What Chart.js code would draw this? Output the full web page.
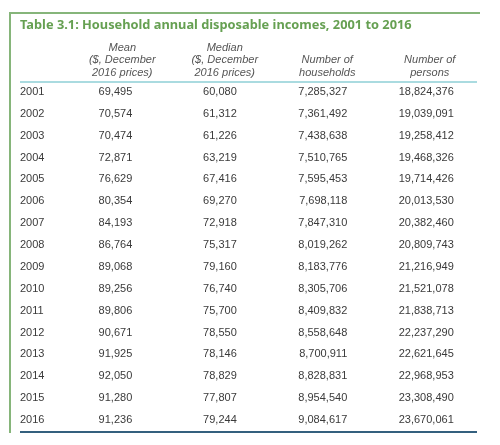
<!DOCTYPE html>
<html>
<head>
<meta charset="utf-8">
<script src="https://cdn.jsdelivr.net/npm/chart.js@4"></script>
<style>
  html, body { margin: 0; padding: 0; background: #fff; }
  #wrap { width: 500px; height: 445px; }
</style>
</head>
<body>
<div id="wrap"><canvas id="myChart" width="500" height="445"></canvas></div>
<script>
// Table data
const years = ["2001", "2002", "2003", "2004", "2005", "2006", "2007", "2008",
  "2009", "2010", "2011", "2012", "2013", "2014", "2015", "2016"];
const columns = [
  ["Mean", "($, December", "2016 prices)"],
  ["Median", "($, December", "2016 prices)"],
  ["Number of", "households"],
  ["Number of", "persons"]
];
const meanIncome = [69495, 70574, 70474, 72871, 76629, 80354, 84193, 86764,
  89068, 89256, 89806, 90671, 91925, 92050, 91280, 91236];
const medianIncome = [60080, 61312, 61226, 63219, 67416, 69270, 72918, 75317,
  79160, 76740, 75700, 78550, 78146, 78829, 77807, 79244];
const households = [7285327, 7361492, 7438638, 7510765, 7595453, 7698118, 7847310, 8019262,
  8183776, 8305706, 8409832, 8558648, 8700911, 8828831, 8954540, 9084617];
const persons = [18824376, 19039091, 19258412, 19468326, 19714426, 20013530, 20382460, 20809743,
  21216949, 21521078, 21838713, 22237290, 22621645, 22968953, 23308490, 23670061];

const series = [meanIncome, medianIncome, households, persons];
const colKeys = ["mean", "median", "households", "persons"];
// how far right of the column centre each column's numbers end
const rightShift = [10, 12, 20, 24];

// one invisible dataset per column, the numbers are written at the point positions
const datasets = series.map((vals, c) => ({
  label: colKeys[c],
  data: vals.map((v, r) => ({ x: colKeys[c], y: years[r], v: v })),
  pointRadius: 0,
  showLine: false
}));

// draw the cell text at every point
const cellText = {
  id: "cellText",
  beforeDraw(chart) {
    const ctx = chart.ctx;
    ctx.save();
    ctx.fillStyle = "#fff";
    ctx.fillRect(0, 0, chart.width, chart.height);
    ctx.restore();
  },
  afterDatasetsDraw(chart) {
    const ctx = chart.ctx;
    const area = chart.chartArea;
    ctx.save();
    ctx.font = "11px 'Liberation Sans', Arial, sans-serif";
    ctx.fillStyle = "#3a3a3a";
    ctx.textAlign = "right";
    ctx.textBaseline = "middle";
    chart.data.datasets.forEach((ds, c) => {
      const meta = chart.getDatasetMeta(c);
      meta.data.forEach((pt, r) => {
        ctx.fillText(ds.data[r].v.toLocaleString("en-US"), pt.x + rightShift[c], pt.y);
      });
    });

    // frame and rules
    ctx.lineWidth = 2;
    ctx.strokeStyle = "#86b57a";
    ctx.beginPath();
    ctx.moveTo(480, 13);
    ctx.lineTo(10, 13);
    ctx.lineTo(10, 433);
    ctx.stroke();

    ctx.strokeStyle = "#aadbe0";
    ctx.beginPath();
    ctx.moveTo(20, area.top + 1);
    ctx.lineTo(477, area.top + 1);
    ctx.stroke();

    ctx.strokeStyle = "#34607e";
    ctx.beginPath();
    ctx.moveTo(20, area.bottom + 1);
    ctx.lineTo(477, area.bottom + 1);
    ctx.stroke();
    ctx.restore();
  }
};

const ctx = document.getElementById("myChart").getContext("2d");
const chart = new Chart(ctx, {
  type: "scatter",
  data: { datasets: datasets },
  options: {
    responsive: false,
    animation: false,
    layout: { padding: { left: 20, right: 19, top: 16, bottom: 14 } },
    plugins: {
      legend: { display: false },
      tooltip: { enabled: false },
      title: {
        display: true,
        text: "Table 3.1: Household annual disposable incomes, 2001 to 2016",
        align: "start",
        color: "#66a052",
        font: { family: "'Noto Sans', 'Open Sans', sans-serif", size: 12.8, weight: "bold", lineHeight: 1.4 },
        padding: { top: 0, bottom: 0 }
      }
    },
    scales: {
      x: {
        type: "category",
        labels: colKeys,
        position: "top",
        offset: true,
        grid: { display: false, drawTicks: false },
        border: { display: false },
        afterFit: s => { s.height = 47; },
        ticks: {
          padding: 2,
          maxRotation: 0,
          autoSkip: false,
          color: "#555",
          font: { family: "'Liberation Sans', Arial, sans-serif", size: 11, style: "italic", lineHeight: 1.14 },
          callback: (v, i) => columns[i]
        }
      },
      y: {
        type: "category",
        labels: years,
        offset: true,
        grid: { display: false, drawTicks: false },
        border: { display: false },
        afterFit: s => { s.width = 51; },
        ticks: {
          crossAlign: "far",
          autoSkip: false,
          color: "#3a3a3a",
          font: { family: "'Liberation Sans', Arial, sans-serif", size: 11 }
        }
      }
    }
  },
  plugins: [cellText]
});
</script>
</body>
</html>
